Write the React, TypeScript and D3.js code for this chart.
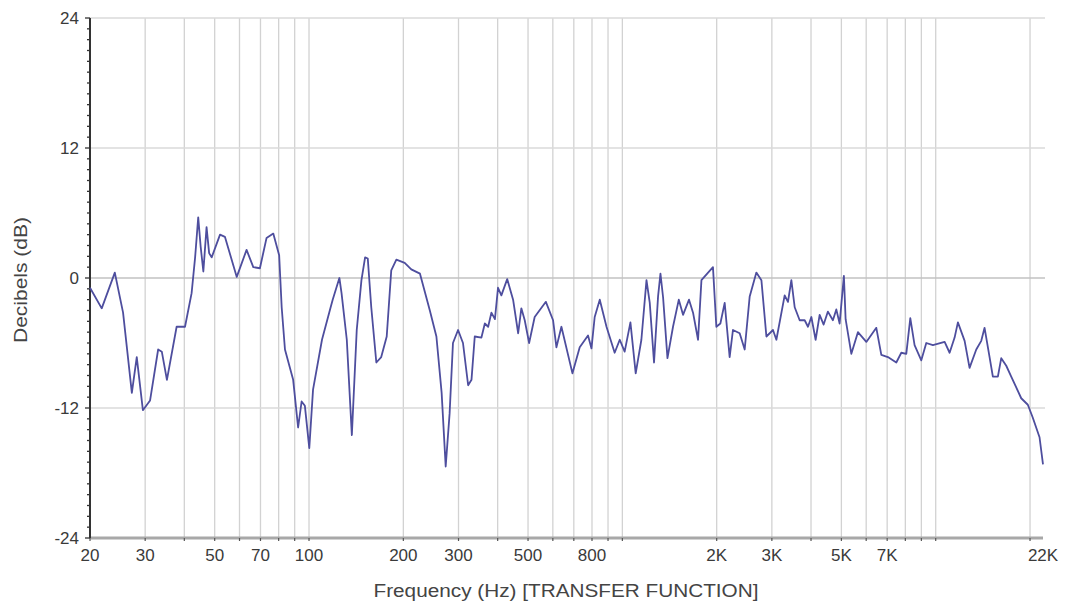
import React from "react";
import * as d3 from "d3";

const freqs = [
  20, 21.8, 24.0, 25.5, 27.2, 28.2, 29.5, 31.1, 33.0, 33.9, 35.2, 37.8, 40.2, 42.2, 43.3, 44.3, 45.1, 46.0, 47.1, 48.0,
  48.9, 52.0, 53.9, 58.8, 63.2, 66.4, 69.7, 73.2, 76.9, 80.3, 81.8, 83.8, 89.0, 92.3, 94.7, 97.0, 100.2, 103, 110, 117,
  119, 125, 127, 132, 137, 142, 147, 151, 154, 158, 164, 170, 177, 183, 190, 202, 212, 226, 243, 255,
  265, 273, 281, 288, 299, 310, 322, 330, 338, 355, 364, 373, 382, 392, 401, 411, 429, 448, 465, 476,
  488, 504, 525, 570, 601, 616, 639, 693, 731, 777, 797, 816, 847, 890, 945, 981, 1017, 1061, 1103, 1150,
  1194, 1223, 1262, 1300, 1323, 1349, 1393, 1451, 1514, 1562, 1632, 1681, 1744, 1788, 1946, 1995, 2055, 2121, 2200, 2254,
  2368, 2457, 2549, 2677, 2778, 2882, 3025, 3101, 3296, 3377, 3462, 3548, 3680, 3818, 3912, 4010, 4138, 4262, 4389, 4529,
  4698, 4817, 4936, 5093, 5158, 5380, 5646, 6006, 6463, 6706, 7038, 7486, 7766, 8056, 8297, 8562, 8995, 9331, 9795, 10679,
  11076, 11490, 11772, 12367, 12825, 13472, 13976, 14320, 14856, 15220, 15790, 16188, 16794, 17420, 18072, 18746, 19680, 20414, 21446, 22000,
];

const decibels = [
  -0.9, -2.8, 0.5, -3.2, -10.6, -7.3, -12.2, -11.3, -6.6, -6.8, -9.4, -4.5, -4.5, -1.4, 1.9, 5.6, 2.9, 0.6, 4.7, 2.3,
  1.9, 4.0, 3.8, 0.1, 2.6, 1.0, 0.9, 3.7, 4.1, 2.1, -2.7, -6.6, -9.4, -13.8, -11.4, -11.8, -15.7, -10.3, -5.7, -2.8,
  -2.0, 0.0, -1.4, -5.7, -14.5, -4.8, -0.2, 1.9, 1.8, -2.7, -7.8, -7.3, -5.4, 0.7, 1.7, 1.4, 0.8, 0.4, -3.0, -5.4,
  -10.6, -17.4, -12.5, -6.0, -4.8, -6.0, -9.9, -9.4, -5.4, -5.5, -4.2, -4.5, -3.2, -3.8, -0.9, -1.6, -0.1, -2.0, -5.1, -2.8,
  -3.9, -6.0, -3.6, -2.2, -3.9, -6.4, -4.5, -8.8, -6.4, -5.3, -6.5, -3.6, -2.0, -4.5, -6.9, -5.7, -6.8, -4.1, -8.8, -5.7,
  -0.2, -2.3, -7.8, -1.7, 0.4, -1.8, -7.4, -4.5, -2.0, -3.4, -2.0, -3.2, -5.7, -0.2, 1.0, -4.5, -4.2, -2.3, -7.3, -4.8,
  -5.1, -6.6, -1.7, 0.5, -0.2, -5.4, -4.8, -5.7, -1.6, -2.2, -0.2, -2.7, -3.9, -3.9, -4.5, -3.6, -5.7, -3.4, -4.3, -3.1,
  -3.9, -2.9, -4.2, 0.2, -3.8, -7.0, -5.0, -5.9, -4.6, -7.1, -7.3, -7.8, -6.9, -7.0, -3.7, -6.2, -7.6, -6.0, -6.2, -5.9,
  -6.9, -5.5, -4.1, -5.8, -8.3, -6.6, -5.8, -4.6, -7.3, -9.1, -9.1, -7.4, -8.1, -9.1, -10.1, -11.1, -11.7, -12.9, -14.7, -17.2,
];

const gridFreqs = [30, 40, 50, 60, 70, 80, 90, 100, 200, 300, 400, 500, 600, 700, 800, 900, 1000, 2000, 3000, 4000, 5000, 6000, 7000, 8000, 9000, 10000, 20000];
const xTickValues = [20, 30, 50, 70, 100, 200, 300, 500, 800, 2000, 3000, 5000, 7000, 22000];
const xTickLabels = ["20", "30", "50", "70", "100", "200", "300", "500", "800", "2K", "3K", "5K", "7K", "22K"];
const yTickValues = [24, 12, 0, -12, -24];
const yMinor = d3.range(-24, 25, 1);

const W = 1066, H = 601;
const left = 90, right = 1043, top = 18, bottom = 538;

export default function App() {
  const x = d3.scaleLog().domain([20, 22000]).range([left, right]);
  const y = d3.scaleLinear().domain([-24, 24]).range([bottom, top]);
  const data = freqs.map((f, i) => [f, decibels[i]] as [number, number]);
  const line = d3.line<[number, number]>().x(d => x(d[0])).y(d => y(d[1]));
  const font = "Arial, 'Liberation Sans', sans-serif";
  return (
    <div style={{ position: "absolute", left: 0, top: 0 }}>
      <svg width={W} height={H} style={{ display: "block", background: "#fff" }}>
        {gridFreqs.map(f => (
          <line key={"g" + f} x1={x(f)} x2={x(f)} y1={top} y2={bottom} stroke="#d2d2d2" strokeWidth={1.3} />
        ))}
        {[24, 12, -12].map(v => (
          <line key={"h" + v} x1={left} x2={right + 2} y1={y(v)} y2={y(v)} stroke="#dadada" strokeWidth={1.6} />
        ))}
        <line x1={left} x2={right + 2} y1={y(0)} y2={y(0)} stroke="#c2c2c2" strokeWidth={1.6} />
        <line x1={left} x2={right} y1={bottom} y2={bottom} stroke="#a8a8a8" strokeWidth={3} />
        {[20, ...gridFreqs].map(f => (
          <line key={"t" + f} x1={x(f)} x2={x(f)} y1={bottom} y2={bottom + 3} stroke="#555" strokeWidth={1.2} />
        ))}
        <line x1={left} x2={left} y1={top} y2={bottom} stroke="#333" strokeWidth={2} />
        {yMinor.map(v => (
          <line key={"m" + v} x1={left - (v % 12 === 0 ? 5 : 3)} x2={left} y1={y(v)} y2={y(v)} stroke="#333" strokeWidth={1.3} />
        ))}
        <path d={line(data) || ""} fill="none" stroke="#4e4e9e" strokeWidth={1.8} strokeLinejoin="round" />
        {yTickValues.map(v => (
          <text key={"yl" + v} x={left - 11} y={y(v)} dy="0.35em" textAnchor="end" fontFamily={font} fontSize={17} fill="#3a3a3a">
            {v}
          </text>
        ))}
        {xTickValues.map((v, i) => (
          <text key={"xl" + v} x={x(v)} y={bottom + 23} textAnchor="middle" fontFamily={font} fontSize={17} fill="#3a3a3a">
            {xTickLabels[i]}
          </text>
        ))}
        <text x={566} y={597} textAnchor="middle" fontFamily={font} fontSize={18} fill="#444"
          textLength={385} lengthAdjust="spacingAndGlyphs">
          Frequency (Hz) [TRANSFER FUNCTION]
        </text>
        <text transform={`translate(27,${y(0) + 2}) rotate(-90)`} textAnchor="middle" fontFamily={font} fontSize={18} fill="#444"
          textLength={126} lengthAdjust="spacingAndGlyphs">
          Decibels (dB)
        </text>
      </svg>
    </div>
  );
}
